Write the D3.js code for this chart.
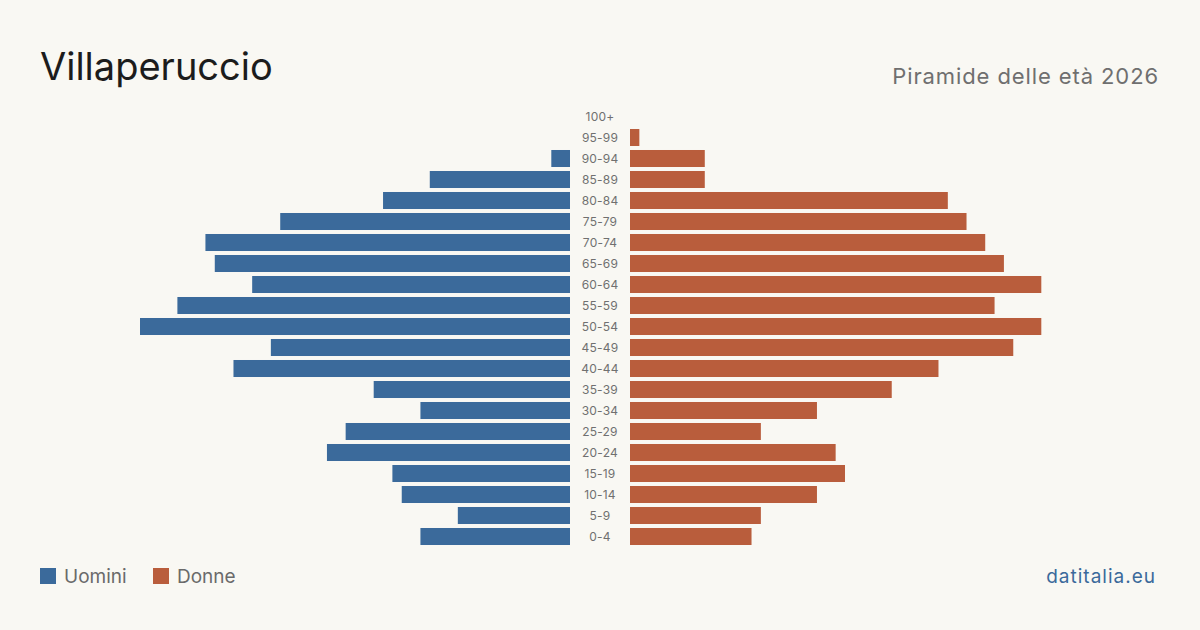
<!DOCTYPE html>
<html>
<head>
<meta charset="utf-8">
<script src="https://cdn.jsdelivr.net/npm/d3@7"></script>
<style>
  body { margin: 0; background: #f9f8f3; }
  svg { display: block; font-family: Inter, "Noto Sans", sans-serif; }
</style>
</head>
<body>
<div id="container"></div>
<script>
var ages = ['100+','95-99','90-94','85-89','80-84','75-79','70-74','65-69','60-64','55-59','50-54',
            '45-49','40-44','35-39','30-34','25-29','20-24','15-19','10-14','5-9','0-4'];
var uomini = [0,0,2,15,20,31,39,38,34,42,46,32,36,21,16,24,26,19,18,12,16];
var donne  = [0,1,8,8,34,36,38,40,44,39,44,41,33,28,20,14,22,23,20,14,13];

var width = 1200, height = 630;
var blue = '#3b6a9b', red = '#b95d3c';

var svg = d3.select('#container')
      .append('svg')
      .attr('width', width)
      .attr('height', height);

svg.append('rect').attr('width', width).attr('height', height).attr('fill', '#f9f8f3');

svg.append('text')
  .attr('x', 40).attr('y', 80)
  .attr('font-size', 38).attr('fill', '#1c1c1c')
  .text('Villaperuccio');

svg.append('text')
  .attr('x', 1159).attr('y', 84)
  .attr('text-anchor', 'end')
  .attr('font-size', 22).attr('fill', '#6f6f6f')
  .attr('letter-spacing', 0.9)
  .text('Piramide delle età 2026');

var y = d3.scaleBand()
  .domain(ages)
  .range([106, 547])
  .paddingInner(0.19)
  .paddingOuter(0.095);

var x = d3.scaleLinear().domain([0, 46]).range([0, 430]);

svg.selectAll('rect.m')
  .data(ages)
  .enter()
  .append('rect')
  .attr('class', 'm')
  .attr('x', function(d, i) { return 570 - x(uomini[i]); })
  .attr('y', function(d) { return y(d); })
  .attr('width', function(d, i) { return x(uomini[i]); })
  .attr('height', y.bandwidth())
  .attr('fill', blue);

svg.selectAll('rect.f')
  .data(ages)
  .enter()
  .append('rect')
  .attr('class', 'f')
  .attr('x', 630)
  .attr('y', function(d) { return y(d); })
  .attr('width', function(d, i) { return x(donne[i]); })
  .attr('height', y.bandwidth())
  .attr('fill', red);

svg.selectAll('text.age')
  .data(ages)
  .enter()
  .append('text')
  .attr('class', 'age')
  .attr('x', 600)
  .attr('y', function(d) { return y(d) + y.bandwidth() / 2; })
  .attr('dy', '0.35em')
  .attr('text-anchor', 'middle')
  .attr('font-size', 12)
  .attr('letter-spacing', 0.2)
  .attr('fill', '#707070')
  .text(function(d) { return d; });

// legend
var legend = [['Uomini', blue, 40], ['Donne', red, 153]];
legend.forEach(function(l) {
  svg.append('rect').attr('x', l[2]).attr('y', 568).attr('width', 16).attr('height', 16).attr('fill', l[1]);
  svg.append('text').attr('x', l[2] + 24).attr('y', 583)
    .attr('font-size', 19).attr('fill', '#6a6a6a').text(l[0]);
});

svg.append('text')
  .attr('x', 1156).attr('y', 583)
  .attr('text-anchor', 'end')
  .attr('font-size', 19).attr('fill', '#3b6a9b')
  .attr('letter-spacing', 1)
  .text('datitalia.eu');
</script>
</body>
</html>
